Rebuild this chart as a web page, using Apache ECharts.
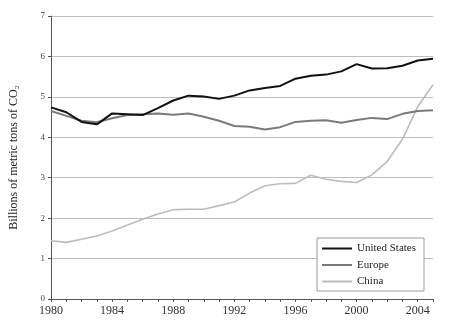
<!DOCTYPE html>
<html>
<head>
<meta charset="utf-8">
<script src="https://cdn.jsdelivr.net/npm/echarts@6/dist/echarts.min.js"></script>
<style>
  html, body { margin: 0; padding: 0; background: #fff; }
  #chart { width: 453px; height: 330px; }
</style>
</head>
<body>
<div id="chart"></div>
<script>
// CO2 emissions, billions of metric tons, 1980-2005
const years = [1980, 1981, 1982, 1983, 1984, 1985, 1986, 1987, 1988, 1989,
               1990, 1991, 1992, 1993, 1994, 1995, 1996, 1997, 1998, 1999,
               2000, 2001, 2002, 2003, 2004, 2005];
const unitedStates = [4.74, 4.62, 4.38, 4.32, 4.59, 4.57, 4.55, 4.72, 4.91, 5.03,
                      5.01, 4.95, 5.03, 5.16, 5.22, 5.27, 5.45, 5.52, 5.55, 5.63,
                      5.81, 5.70, 5.71, 5.77, 5.90, 5.94];
const europe = [4.65, 4.53, 4.41, 4.37, 4.47, 4.55, 4.57, 4.59, 4.56, 4.59,
                4.51, 4.41, 4.28, 4.26, 4.19, 4.25, 4.38, 4.41, 4.42, 4.36,
                4.43, 4.48, 4.45, 4.58, 4.65, 4.67];
const china = [1.44, 1.40, 1.48, 1.56, 1.68, 1.83, 1.97, 2.10, 2.21, 2.22,
               2.22, 2.31, 2.40, 2.62, 2.80, 2.85, 2.86, 3.06, 2.96, 2.91,
               2.88, 3.07, 3.40, 3.95, 4.76, 5.30];
const seriesNames = ['United States', 'Europe', 'China'];
const yTicks = [0, 1, 2, 3, 4, 5, 6, 7];
const yTitle = 'Billions of metric tons of CO\u2082';

const pairs = vals => years.map((y, i) => [y, vals[i]]);
const serif = '"Liberation Serif", "DejaVu Serif", serif';

const chart = echarts.init(document.getElementById('chart'), null, { renderer: 'canvas' });
chart.setOption({
  animation: false,
  backgroundColor: '#fff',
  textStyle: { fontFamily: serif },
  grid: { left: 44, right: 20, top: 16, bottom: 31 },
  legend: {
    data: seriesNames,
    orient: 'vertical',
    right: 29,
    bottom: 39,
    icon: 'rect',
    itemWidth: 30,
    itemHeight: 2,
    itemGap: 3.5,
    padding: [4, 8, 3, 5],
    backgroundColor: '#fff',
    borderColor: '#999',
    borderWidth: 1,
    borderRadius: 0,
    textStyle: { fontFamily: serif, fontSize: 11, color: '#222', lineHeight: 13 }
  },
  xAxis: {
    type: 'value',
    min: years[0],
    max: years[years.length - 1],
    interval: 1,
    axisLine: { show: true, lineStyle: { color: '#555', width: 1 } },
    axisTick: { show: true, inside: false, length: 3, lineStyle: { color: '#555' } },
    splitLine: { show: false },
    axisLabel: {
      fontFamily: serif, fontSize: 12, color: '#333', margin: 6,
      formatter: v => (v % 4 === 0 ? String(v) : '')
    }
  },
  yAxis: {
    type: 'value',
    min: yTicks[0],
    max: yTicks[yTicks.length - 1],
    interval: 1,
    name: yTitle,
    nameLocation: 'middle',
    nameGap: 31,
    nameTextStyle: { fontFamily: serif, fontSize: 12, color: '#222' },
    axisLine: { show: true, lineStyle: { color: '#555', width: 1 } },
    axisTick: { show: true, inside: false, length: 3, lineStyle: { color: '#555' } },
    splitLine: { show: true, lineStyle: { color: '#bdbdbd', width: 1 } },
    axisLabel: { fontFamily: serif, fontSize: 9, color: '#444', margin: 6 }
  },
  series: [
    {
      name: seriesNames[0], type: 'line', data: pairs(unitedStates),
      showSymbol: false, symbol: 'none', color: '#111',
      lineStyle: { color: '#111', width: 2 }, z: 4
    },
    {
      name: seriesNames[1], type: 'line', data: pairs(europe),
      showSymbol: false, symbol: 'none', color: '#7a7a7a',
      lineStyle: { color: '#7a7a7a', width: 2 }, z: 3
    },
    {
      name: seriesNames[2], type: 'line', data: pairs(china),
      showSymbol: false, symbol: 'none', color: '#bcbcbc',
      lineStyle: { color: '#bcbcbc', width: 1.6 }, z: 2
    }
  ]
});
</script>
</body>
</html>
